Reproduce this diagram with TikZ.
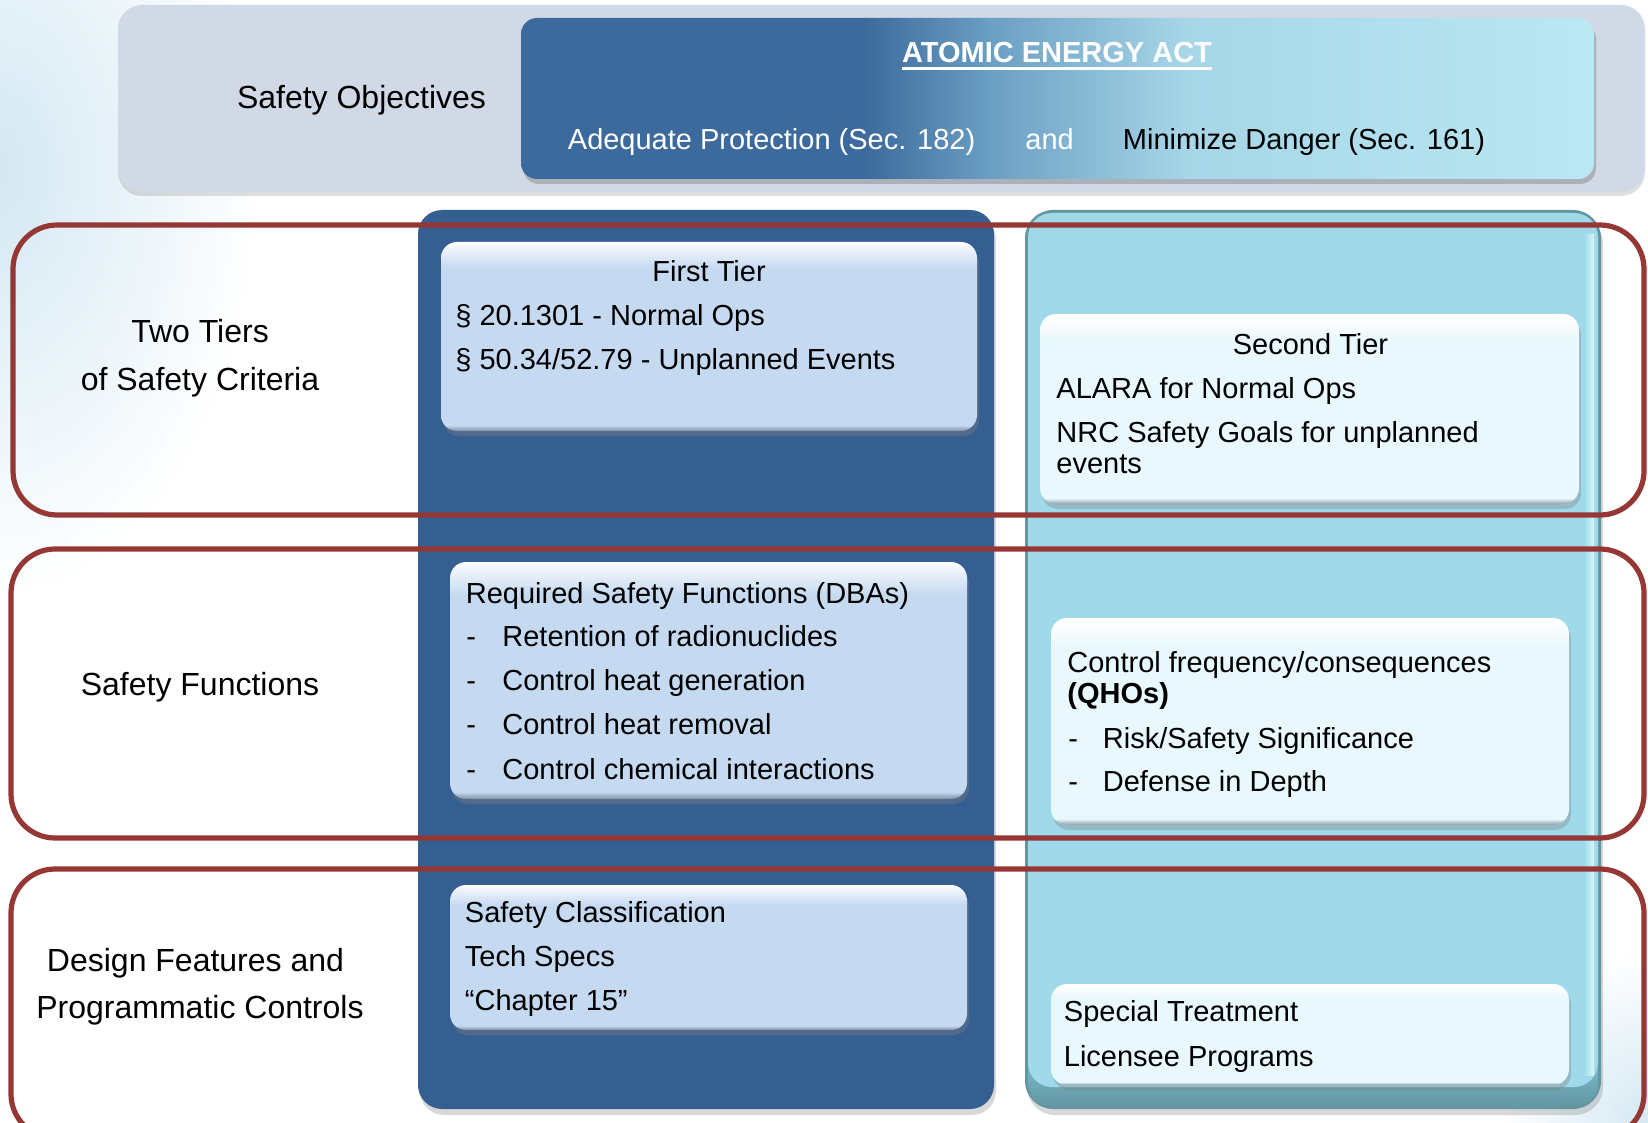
\documentclass[tikz,border=0pt]{standalone}
\usepackage{fontspec}
\setmainfont{Liberation Sans}
\usetikzlibrary{shadows}

\definecolor{panelgray}{RGB}{209,216,230}
\definecolor{aeadark}{RGB}{60,106,156}
\definecolor{aeamid}{RGB}{108,160,196}
\definecolor{aealight}{RGB}{186,232,243}
\definecolor{darkcol}{RGB}{54,95,145}
\definecolor{lightcol}{RGB}{160,218,234}
\definecolor{lightrim}{RGB}{100,150,162}
\definecolor{lightbevel}{RGB}{120,185,200}
\definecolor{lightshine}{RGB}{218,247,252}
\definecolor{boxblue}{RGB}{197,217,241}
\definecolor{boxblueedge}{RGB}{128,142,162}
\definecolor{boxcyan}{RGB}{232,248,252}
\definecolor{boxcyanedge}{RGB}{138,158,166}
\definecolor{bandred}{RGB}{149,55,53}
\definecolor{glow}{RGB}{212,232,243}

% left-to-right blend of the Atomic Energy Act banner
\pgfdeclarehorizontalshading{aeashade}{100bp}{color(0bp)=(aeadark); color(41bp)=(aeadark); color(47bp)=(aeamid); color(56bp)=(aealight!75!aeamid); color(75bp)=(aealight); color(100bp)=(aealight)}
% glossy fills: dark lip at the bottom, white sheen at the top
\pgfdeclareverticalshading{glossblue}{100bp}{color(0bp)=(boxblueedge); color(25bp)=(boxblueedge); color(26.5bp)=(boxblue); color(68bp)=(boxblue); color(74bp)=(white!80!boxblue); color(75bp)=(white); color(100bp)=(white)}
\pgfdeclareverticalshading{glosscyan}{100bp}{color(0bp)=(boxcyanedge); color(25bp)=(boxcyanedge); color(26.5bp)=(boxcyan); color(68bp)=(boxcyan); color(74bp)=(white); color(100bp)=(white)}
% bottom bevel of the second-tier column
\pgfdeclareverticalshading{colbottom}{100bp}{color(0bp)=(lightrim); color(25bp)=(lightrim); color(45bp)=(lightbevel); color(75bp)=(lightcol); color(100bp)=(lightcol)}

\tikzset{
  panel/.style={fill=panelgray, rounded corners=12pt,
    drop shadow={shadow xshift=0pt, shadow yshift=-2pt, opacity=.25}},
  banner/.style={shading=aeashade, rounded corners=8pt,
    drop shadow={shadow xshift=1pt, shadow yshift=-2.5pt, opacity=.45}},
  darkcolumn/.style={fill=darkcol, rounded corners=12pt,
    drop shadow={shadow xshift=1pt, shadow yshift=-3pt, opacity=.3}},
  bluebox/.style={shading=glossblue, rounded corners=8pt,
    drop shadow={shadow xshift=1pt, shadow yshift=-2.5pt, opacity=.35}},
  cyanbox/.style={shading=glosscyan, rounded corners=8pt,
    drop shadow={shadow xshift=1pt, shadow yshift=-2.5pt, opacity=.35}},
  band/.style={draw=bandred, line width=2.6pt, rounded corners=22pt},
  boxtext/.style={font=\fontsize{14.5}{17}\selectfont, inner sep=0pt, anchor=base west},
  boxhead/.style={font=\fontsize{14.5}{17}\selectfont, inner sep=0pt, anchor=base},
  sidelabel/.style={font=\fontsize{16}{19}\selectfont, inner sep=0pt, anchor=base},
}

\begin{document}
\begin{tikzpicture}[x=0.5pt, y=-0.5pt]
  \useasboundingbox (0,0) rectangle (1648,1123);
  \clip (0,0) rectangle (1648,1123);

  % background with soft tint in two corners
  \fill[white] (0,0) rectangle (1648,1123);
  \shade[inner color=glow, outer color=white] (-260,-260) rectangle (260,600);
  \shade[inner color=glow, outer color=white] (1500,950) rectangle (1800,1300);

  % top panel and banner
  \path[panel] (118,5) rectangle (1645,192);
  \path[banner] (521,18) rectangle (1594,179);

  % first-tier column
  \path[darkcolumn] (418,210) rectangle (994,1109);

  % second-tier column with bevelled rim
  \path[fill=lightrim, rounded corners=14pt,
        drop shadow={shadow xshift=1pt, shadow yshift=-3pt, opacity=.3}]
        (1025,210) rectangle (1601,1109);
  \path[shading=colbottom, rounded corners=12pt] (1028,1000) rectangle (1598,1107);
  \path[fill=lightcol, rounded corners=12pt] (1028,213) rectangle (1598,1087);
  \path[left color=lightcol, right color=lightshine] (1584,235) rectangle (1594,1075);

  % criteria boxes
  \path[bluebox] (441,242) rectangle (977,431);
  \path[cyanbox] (1040,314) rectangle (1579,504);
  \path[bluebox] (450,562) rectangle (967,799);
  \path[cyanbox] (1051,618) rectangle (1569,825);
  \path[bluebox] (450,885) rectangle (967,1030);
  \path[cyanbox] (1051,984) rectangle (1569,1085);

  % row frames
  \draw[band] (13,225) rectangle (1644,515);
  \draw[band] (11,549) rectangle (1644,838);
  \draw[band] (11,869) rectangle (1644,1138);

  % top panel text
  \node[sidelabel] (objlbl) at (361.5,109) {Safety Objectives};
  \node[boxhead, text=white, font=\fontsize{14.5}{17}\selectfont\bfseries] (aea) at (1057,63) {ATOMIC ENERGY ACT};
  \draw[white, line width=1.4pt] ([yshift=-2.8pt]aea.base west) -- ([yshift=-2.8pt]aea.base east);
  \node[boxtext, text=white] (adequate) at (567.5,150) {Adequate Protection (Sec. 182)};
  \node[boxtext, text=white] (andword) at (1025,150) {and};
  \node[boxtext] (minimize) at (1122.5,150) {Minimize Danger (Sec. 161)};

  % row labels
  \node[sidelabel] (tiersA) at (200,342.5) {Two Tiers};
  \node[sidelabel] (tiersB) at (200,390) {of Safety Criteria};
  \node[sidelabel] (funcs) at (200,695.5) {Safety Functions};
  \node[sidelabel] (designA) at (195.5,971) {Design Features and};
  \node[sidelabel] (designB) at (200,1018.5) {Programmatic Controls};

  % first tier
  \node[boxhead] (t1head) at (709,281) {First Tier};
  \node[boxtext] (t1a) at (455,325) {\S\ 20.1301 - Normal Ops};
  \node[boxtext] (t1b) at (455,369) {\S\ 50.34/52.79 - Unplanned Events};

  % second tier
  \node[boxhead] (t2head) at (1310.5,354) {Second Tier};
  \node[boxtext] (t2a) at (1056,398) {ALARA for Normal Ops};
  \node[boxtext] (t2b) at (1056,442) {NRC Safety Goals for unplanned};
  \node[boxtext] (t2c) at (1056,473) {events};

  % required safety functions
  \node[boxtext] (rsf) at (465.5,603) {Required Safety Functions (DBAs)};
  \node[boxtext] (rsf1) at (466,646) {\makebox[18pt][l]{-}Retention of radionuclides};
  \node[boxtext] (rsf2) at (466,690.5) {\makebox[18pt][l]{-}Control heat generation};
  \node[boxtext] (rsf3) at (466,734.5) {\makebox[18pt][l]{-}Control heat removal};
  \node[boxtext] (rsf4) at (466,779) {\makebox[18pt][l]{-}Control chemical interactions};

  % frequency and consequences
  \node[boxtext] (cfc) at (1067,672.5) {Control frequency/consequences};
  \node[boxtext, font=\fontsize{14.5}{17}\selectfont\bfseries] (qho) at (1067,703) {(QHOs)};
  \node[boxtext] (cfc1) at (1068,748) {\makebox[17.25pt][l]{-}Risk/Safety Significance};
  \node[boxtext] (cfc2) at (1068,791.5) {\makebox[17.25pt][l]{-}Defense in Depth};

  % design features and programmatic controls
  \node[boxtext] (dfa) at (464.5,922.5) {Safety Classification};
  \node[boxtext] (dfb) at (464.5,966) {Tech Specs};
  \node[boxtext] (dfc) at (464.5,1010) {“Chapter 15”};
  \node[boxtext] (pca) at (1063.5,1021.5) {Special Treatment};
  \node[boxtext] (pcb) at (1063.5,1066) {Licensee Programs};
\end{tikzpicture}
\end{document}
